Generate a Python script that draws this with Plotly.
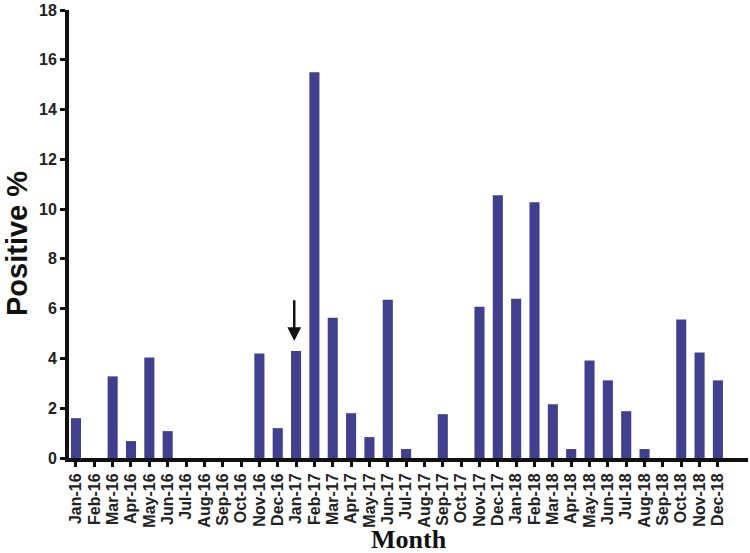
import plotly.graph_objects as go

months = ["Jan-16", "Feb-16", "Mar-16", "Apr-16", "May-16", "Jun-16", "Jul-16", "Aug-16",
          "Sep-16", "Oct-16", "Nov-16", "Dec-16", "Jan-17", "Feb-17", "Mar-17", "Apr-17",
          "May-17", "Jun-17", "Jul-17", "Aug-17", "Sep-17", "Oct-17", "Nov-17", "Dec-17",
          "Jan-18", "Feb-18", "Mar-18", "Apr-18", "May-18", "Jun-18", "Jul-18", "Aug-18",
          "Sep-18", "Oct-18", "Nov-18", "Dec-18"]
positive = [1.6, 0, 3.28, 0.68, 4.04, 1.08, 0, 0,
            0, 0, 4.2, 1.2, 4.3, 15.5, 5.64, 1.8,
            0.84, 6.36, 0.36, 0, 1.76, 0, 6.08, 10.56,
            6.4, 10.28, 2.16, 0.36, 3.92, 3.12, 1.88, 0.36,
            0, 5.56, 4.24, 3.12]
y_ticks = [0, 2, 4, 6, 8, 10, 12, 14, 16, 18]
arrow_month = "Jan-17"
arrow_from, arrow_to = 6.4, 4.7

x_idx = list(range(len(months)))

fig = go.Figure()
fig.add_trace(go.Bar(x=x_idx, y=positive, marker_color="#40408F",
                     marker_line_width=0, width=0.55))

ai = months.index(arrow_month)
fig.add_annotation(x=ai - 0.1, y=arrow_to, ax=ai - 0.1, ay=arrow_from,
                   xref="x", yref="y", axref="x", ayref="y",
                   showarrow=True, arrowhead=2, arrowsize=1.1, arrowwidth=2.5,
                   arrowcolor="#111111", text="")

fig.add_annotation(text="<b>Month</b>", xref="paper", yref="paper", x=0.5, y=0, yshift=-81,
                   xanchor="center", yanchor="middle", showarrow=False,
                   font=dict(size=26, family="Liberation Serif, Times New Roman",
                             color="#111111"))
fig.add_annotation(text="<b>Positive %</b>", xref="paper", yref="paper", x=0, xshift=-52,
                   y=0.5, yshift=-10, textangle=-90,
                   xanchor="center", yanchor="middle", showarrow=False,
                   font=dict(size=29, family="Liberation Sans, Arial", color="#111111"))

fig.update_layout(
    width=750, height=553,
    margin=dict(l=69, r=2, t=10, b=95),
    plot_bgcolor="white", paper_bgcolor="white",
    showlegend=False,
    font=dict(family="Liberation Sans, Arial", color="#222222"),
)
fig.update_xaxes(
    range=[-0.38, 36.64], tickmode="array", tickvals=x_idx,
    ticktext=["<b>%s</b>" % m for m in months],
    tickangle=-90, tickfont=dict(size=16, family="Liberation Sans, Arial"),
    showline=True, linecolor="#111111", linewidth=4,
    ticks="outside", ticklen=5, tickwidth=3, tickcolor="#111111",
    showgrid=False, zeroline=False, automargin=False,
)
fig.update_yaxes(
    range=[0, 18], tickmode="array", tickvals=y_ticks,
    ticktext=["<b>%d</b>" % v for v in y_ticks],
    tickfont=dict(size=16, family="Liberation Sans, Arial"),
    showline=True, linecolor="#111111", linewidth=4,
    ticks="outside", ticklen=5, tickwidth=3, tickcolor="#111111",
    showgrid=False, zeroline=False, automargin=False,
)

fig.write_html("out.html", config={"displayModeBar": False},
               post_script="document.body.style.margin='0';")
